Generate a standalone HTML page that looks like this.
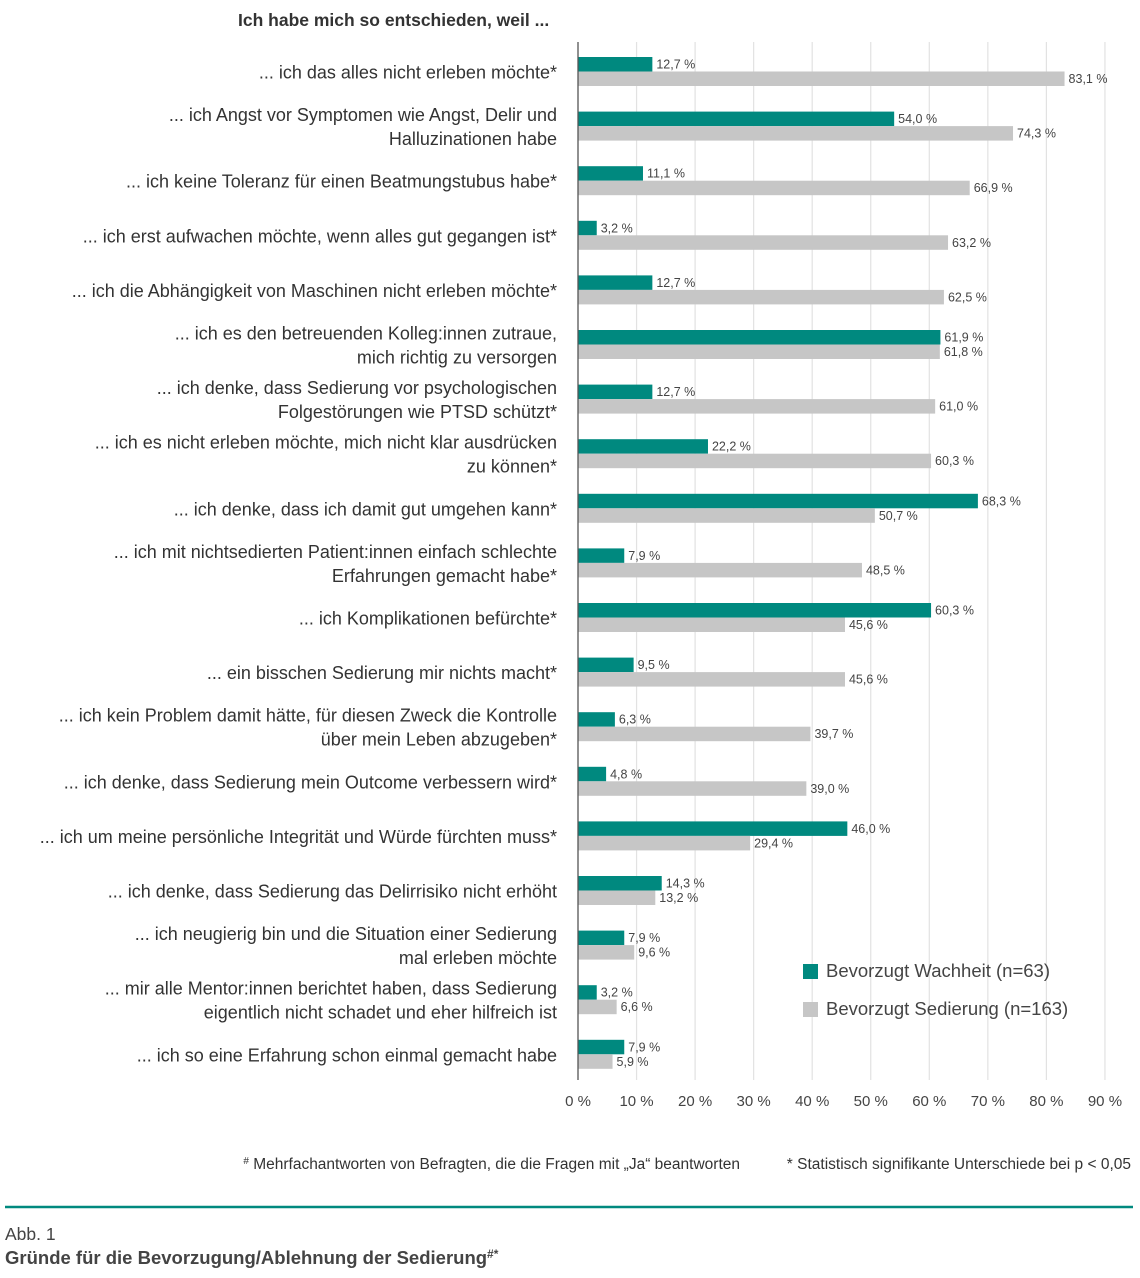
<!DOCTYPE html>
<html><head><meta charset="utf-8"><style>
body{margin:0;background:#fff;width:1140px;height:1273px;overflow:hidden}
svg text{font-family:"Liberation Sans",sans-serif}
</style></head><body>
<svg width="1140" height="1273" xmlns="http://www.w3.org/2000/svg">
<text x="238" y="26" font-size="17.5" font-weight="bold" fill="#333">Ich habe mich so entschieden, weil ...</text>
<g stroke="#e2e2e2" stroke-width="1.2" id="grid"></g>
<g id="bars"></g>
<line x1="578" y1="42" x2="578" y2="1080" stroke="#555" stroke-width="1.3"/>
<g id="labels" font-size="18" fill="#333" text-anchor="end"></g>
<g id="ticks" font-size="15" fill="#444" text-anchor="middle"></g>
<rect x="803" y="964" width="15" height="15" fill="#00897f"/>
<text x="826" y="977" font-size="18.5" fill="#444">Bevorzugt Wachheit (n=63)</text>
<rect x="803" y="1002" width="15" height="15" fill="#c6c6c6"/>
<text x="826" y="1015" font-size="18.5" fill="#444">Bevorzugt Sedierung (n=163)</text>
<text x="740" y="1169" font-size="15.5" fill="#333" text-anchor="end"><tspan font-size="10" dy="-5">#</tspan><tspan dy="5"> Mehrfachantworten von Befragten, die die Fragen mit „Ja“ beantworten</tspan></text>
<text x="1131" y="1169" font-size="15.5" fill="#333" text-anchor="end">* Statistisch signifikante Unterschiede bei p &lt; 0,05</text>
<line x1="5" y1="1207" x2="1133" y2="1207" stroke="#00897f" stroke-width="2.5"/>
<text x="5" y="1240" font-size="17.5" fill="#444">Abb. 1</text>
<text x="5" y="1264" font-size="18.5" font-weight="bold" fill="#444">Gründe für die Bevorzugung/Ablehnung der Sedierung<tspan font-size="12" dy="-6">#*</tspan></text>
</svg>
<script>
const d=[
[["... ich das alles nicht erleben möchte*"],12.7,83.1],
[["... ich Angst vor Symptomen wie Angst, Delir und","Halluzinationen habe"],54.0,74.3],
[["... ich keine Toleranz für einen Beatmungstubus habe*"],11.1,66.9],
[["... ich erst aufwachen möchte, wenn alles gut gegangen ist*"],3.2,63.2],
[["... ich die Abhängigkeit von Maschinen nicht erleben möchte*"],12.7,62.5],
[["... ich es den betreuenden Kolleg:innen zutraue,","mich richtig zu versorgen"],61.9,61.8],
[["... ich denke, dass Sedierung vor psychologischen","Folgestörungen wie PTSD schützt*"],12.7,61.0],
[["... ich es nicht erleben möchte, mich nicht klar ausdrücken","zu können*"],22.2,60.3],
[["... ich denke, dass ich damit gut umgehen kann*"],68.3,50.7],
[["... ich mit nichtsedierten Patient:innen einfach schlechte","Erfahrungen gemacht habe*"],7.9,48.5],
[["... ich Komplikationen befürchte*"],60.3,45.6],
[["... ein bisschen Sedierung mir nichts macht*"],9.5,45.6],
[["... ich kein Problem damit hätte, für diesen Zweck die Kontrolle","über mein Leben abzugeben*"],6.3,39.7],
[["... ich denke, dass Sedierung mein Outcome verbessern wird*"],4.8,39.0],
[["... ich um meine persönliche Integrität und Würde fürchten muss*"],46.0,29.4],
[["... ich denke, dass Sedierung das Delirrisiko nicht erhöht"],14.3,13.2],
[["... ich neugierig bin und die Situation einer Sedierung","mal erleben möchte"],7.9,9.6],
[["... mir alle Mentor:innen berichtet haben, dass Sedierung","eigentlich nicht schadet und eher hilfreich ist"],3.2,6.6],
[["... ich so eine Erfahrung schon einmal gemacht habe"],7.9,5.9]];
const NS="http://www.w3.org/2000/svg",S=5.855,X0=578;
function el(p,t,a,txt){const e=document.createElementNS(NS,t);for(const k in a)e.setAttribute(k,a[k]);if(txt!=null)e.textContent=txt;p.appendChild(e);return e}
const g=document.getElementById('grid'),b=document.getElementById('bars'),l=document.getElementById('labels'),tk=document.getElementById('ticks');
for(let i=1;i<=9;i++){const x=X0+i*10*S;el(g,'line',{x1:x,y1:42,x2:x,y2:1080});}
for(let i=0;i<=9;i++){el(tk,'text',{x:X0+i*10*S,y:1106},i*10+' %');}
const f=v=>v.toFixed(1).replace('.',',')+' %';
d.forEach((r,i)=>{const y=57+i*54.6;
el(b,'rect',{x:X0,y:y,width:r[1]*S,height:14.5,fill:'#00897f'});
el(b,'rect',{x:X0,y:y+14.5,width:r[2]*S,height:14.5,fill:'#c6c6c6'});
el(b,'text',{x:X0+r[1]*S+4,y:y+11.5,'font-size':12.5,fill:'#444'},f(r[1]));
el(b,'text',{x:X0+r[2]*S+4,y:y+26,'font-size':12.5,fill:'#444'},f(r[2]));
const c=y+14.5;
if(r[0].length==1)el(l,'text',{x:557,y:c+7},r[0][0]);
else{el(l,'text',{x:557,y:c-5},r[0][0]);el(l,'text',{x:557,y:c+19},r[0][1]);}
});
</script>
</body></html>
